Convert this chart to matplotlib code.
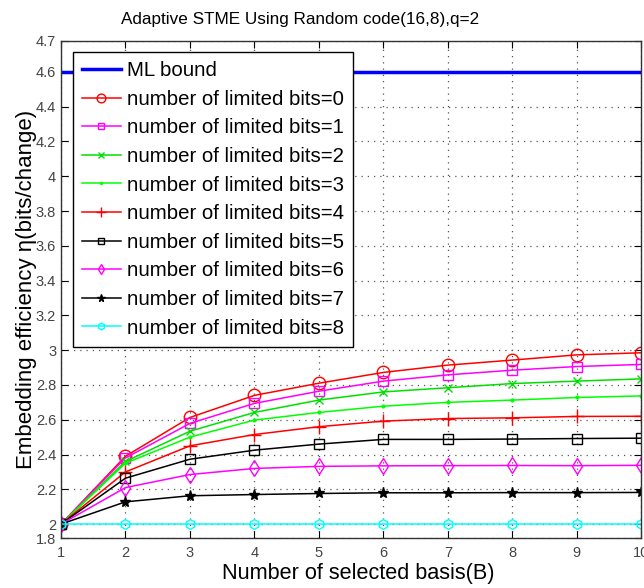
import matplotlib
matplotlib.use("Agg")
import matplotlib.pyplot as plt
import numpy as np

plt.rcParams['font.family'] = ['Liberation Sans', 'DejaVu Sans']

x = [1, 2, 3, 4, 5, 6, 7, 8, 9, 10]
ml_bound = [4.6] * 10
bits0 = [2.0, 2.39, 2.613, 2.74, 2.81, 2.872, 2.914, 2.943, 2.973, 2.985]
bits1 = [2.0, 2.38, 2.579, 2.694, 2.764, 2.822, 2.858, 2.885, 2.906, 2.918]
bits2 = [2.0, 2.36, 2.534, 2.642, 2.713, 2.76, 2.784, 2.808, 2.822, 2.835]
bits3 = [2.0, 2.35, 2.50, 2.598, 2.642, 2.678, 2.70, 2.713, 2.728, 2.737]
bits4 = [2.0, 2.30, 2.45, 2.515, 2.56, 2.592, 2.607, 2.611, 2.619, 2.62]
bits5 = [2.0, 2.264, 2.373, 2.425, 2.46, 2.487, 2.487, 2.489, 2.492, 2.494]
bits6 = [2.0, 2.21, 2.285, 2.32, 2.332, 2.335, 2.336, 2.337, 2.336, 2.338]
bits7 = [2.0, 2.128, 2.163, 2.17, 2.176, 2.18, 2.18, 2.181, 2.181, 2.182]
bits8 = [2.0] * 10

series = [bits0, bits1, bits2, bits3, bits4, bits5, bits6, bits7, bits8]
labels = ['number of limited bits=%d' % i for i in range(9)]
colors = ['#ff0000', '#ff00ff', '#00e000', '#00ff00', '#ff0000', '#000000', '#ff00ff', '#000000', '#00ffff']
markers = ['o', 's', 'x', '.', '+', 's', 'd', '*', 'h']
filled = [False, False, True, True, True, False, False, True, False]
msizes = [9, 7, 6, 4, 10, 7, 8, 8, 7]

# axis end labels as shown in the reference
y_bottom, y_top = 1.92, 4.78
yticks = [y_bottom, 2.0, 2.2, 2.4, 2.6, 2.8, 3.0, 3.2, 3.4, 3.6, 3.8, 4.0, 4.2, 4.4, 4.6, y_top]
ytick_labels = ['1.8', '2', '2.2', '2.4', '2.6', '2.8', '3', '3.2', '3.4', '3.6', '3.8', '4', '4.2', '4.4', '4.6', '4.7']
xticks = [1, 2, 3, 4, 5, 6, 7, 8, 9, 10]

fig = plt.figure(figsize=(6.44, 5.88), dpi=100)
ax = fig.add_axes([0.0947, 0.085, 0.901, 0.846])

ax.plot(x, ml_bound, color='#0000ff', lw=2.5, label='ML bound')
for s, lab, c, m, f, ms in zip(series, labels, colors, markers, filled, msizes):
    kw = dict(markerfacecolor='none') if not f else {}
    ax.plot(x, s, color=c, lw=1.1, marker=m, markersize=ms, markeredgewidth=1.0,
            label=lab, **kw)

ax.set_xlim(1, 10)
ax.set_ylim(y_bottom, y_top)
ax.set_xticks(xticks)
ax.set_yticks(yticks)
ax.set_yticklabels(ytick_labels)
ax.tick_params(direction='in', top=True, right=True, labelsize=10.5, labelcolor='#444444',
               length=5, width=0.8)
ax.tick_params(axis='x', pad=6)
ax.grid(True, linestyle=(0, (1, 4)), color='#555555', lw=0.9)
for sp in ax.spines.values():
    sp.set_color('#333333')
    sp.set_linewidth(1.0)

ax.set_title('Adaptive STME Using Random code(16,8),q=2', fontsize=12.3, pad=12, x=0.412)
ax.set_xlabel('Number of selected basis(B)', fontsize=15.6, labelpad=2, x=0.512)
ax.set_ylabel('Embedding efficiency \u03b7(bits/change)', fontsize=16, labelpad=-1)

leg = ax.legend(loc='upper left', bbox_to_anchor=(0.02, 0.977), fontsize=14.7,
                frameon=True, fancybox=False, edgecolor='black', framealpha=1,
                handlelength=1.9, handletextpad=0.3, labelspacing=0.47,
                borderpad=0.45, borderaxespad=0, markerscale=0.7)
leg.get_frame().set_linewidth(1.0)

fig.savefig('out.png', dpi=100)
